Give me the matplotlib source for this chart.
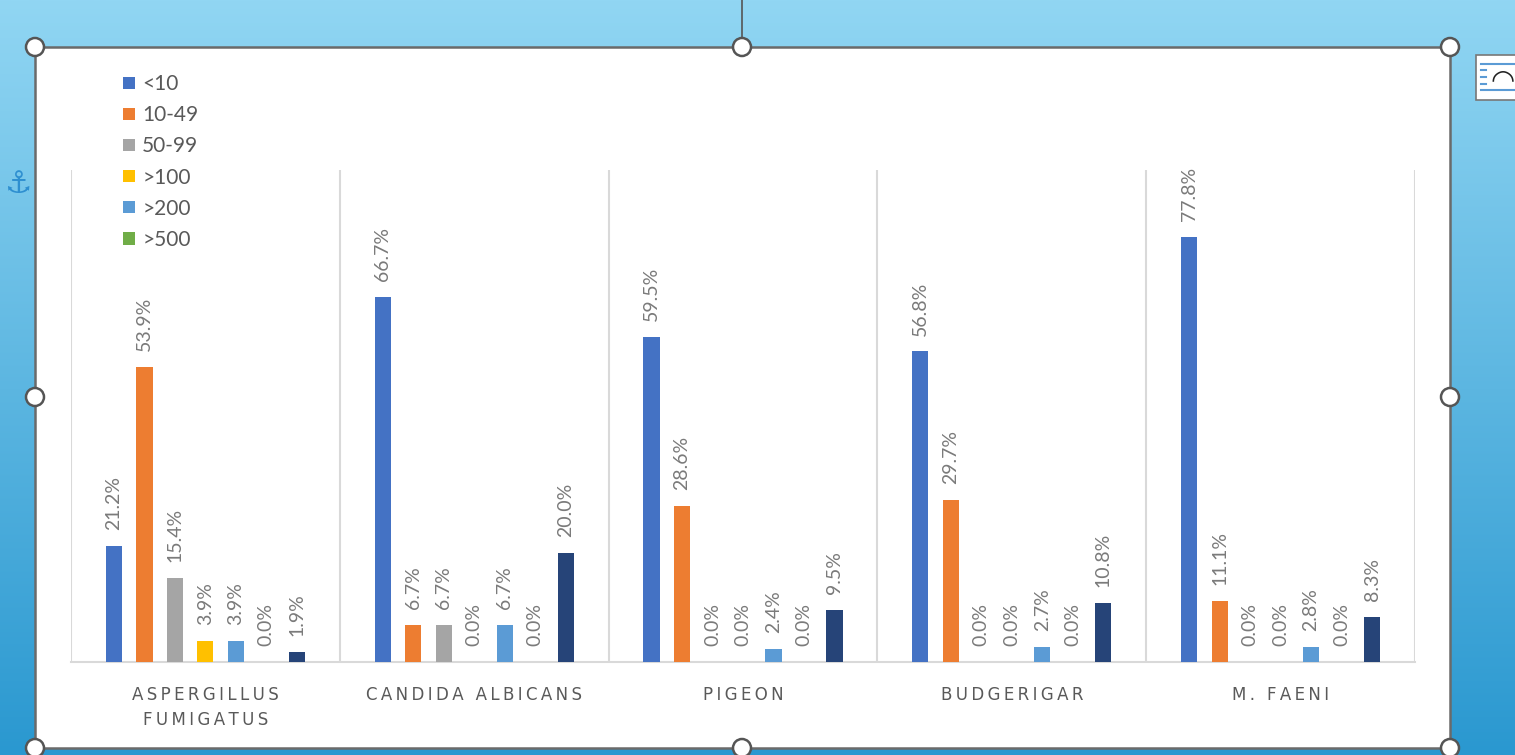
import numpy as np
import matplotlib
matplotlib.use("Agg")
import matplotlib.pyplot as plt
from matplotlib.patches import Rectangle, Circle
from matplotlib.lines import Line2D

plt.rcParams['font.family'] = ['Lato', 'DejaVu Sans']

categories = ["ASPERGILLUS\nFUMIGATUS", "CANDIDA ALBICANS", "PIGEON", "BUDGERIGAR", "M. FAENI"]
series_names = ["<10", "10-49", "50-99", ">100", ">200", ">500", ">1000"]
legend_shown = 6
values = {
    "<10":   [21.2, 66.7, 59.5, 56.8, 77.8],
    "10-49": [53.9, 6.7, 28.6, 29.7, 11.1],
    "50-99": [15.4, 6.7, 0.0, 0.0, 0.0],
    ">100":  [3.9, 0.0, 0.0, 0.0, 0.0],
    ">200":  [3.9, 6.7, 2.4, 2.7, 2.8],
    ">500":  [0.0, 0.0, 0.0, 0.0, 0.0],
    ">1000": [1.9, 20.0, 9.5, 10.8, 8.3],
}
colors = ["#4472C4", "#ED7D31", "#A5A5A5", "#FFC000", "#5B9BD5", "#70AD47", "#264478"]

W, H = 1515, 755
fig = plt.figure(figsize=(W / 100, H / 100), dpi=100)

# background gradient (Word canvas)
bg = fig.add_axes([0, 0, 1, 1], zorder=-10)
grad = np.linspace(0, 1, 256)[:, None]
c_top = np.array([0x91, 0xd6, 0xf3]) / 255
c_bot = np.array([0x2a, 0x98, 0xd0]) / 255
img = c_top[None, None, :] * (1 - grad[:, :, None]) + c_bot[None, None, :] * grad[:, :, None]
bg.imshow(img, aspect='auto', extent=[0, W, H, 0])
bg.set_xlim(0, W)
bg.set_ylim(H, 0)
bg.axis('off')

# white chart frame
bg.add_patch(Rectangle((35, 47), 1415, 701, facecolor='white', edgecolor='#6a6a6a', lw=1.8, zorder=1))
bg.add_line(Line2D([742, 742], [0, 47], color='#555555', lw=1.2, zorder=2))
for (hx, hy) in [(35, 47), (742, 47), (1450, 47), (35, 397), (1450, 397), (35, 748), (742, 748), (1450, 748)]:
    bg.add_patch(Circle((hx, hy), 9, facecolor='white', edgecolor='#555555', lw=1.8, zorder=3))
bg.text(18, 184, "\u2693", color='#2e8fd0', fontsize=22, ha='center', va='center',
        family=['DejaVu Sans'], zorder=3)
# layout options icon
bg.add_patch(Rectangle((1476, 55), 45, 45, facecolor='white', edgecolor='#777777', lw=1.2, zorder=3))
for yy in [64, 90]:
    bg.add_line(Line2D([1481, 1515], [yy, yy], color='#5b9bd5', lw=1.5, zorder=4))
for yy in [70, 77, 84]:
    bg.add_line(Line2D([1481, 1486], [yy, yy], color='#5b9bd5', lw=1.5, zorder=4))
bg.text(1503, 80, "\u25e0", fontsize=20, color='#222222', ha='center', va='center',
        family=['DejaVu Sans'], zorder=4)

# chart axes
ax = fig.add_axes([71 / W, 1 - 662 / H, (1415 - 71) / W, (662 - 170) / H])
ax.set_facecolor('none')
n = len(series_names)
slot = 0.1134
bw = 0.06
x = np.arange(len(categories))
for i, name in enumerate(series_names):
    offs = (i - (n - 1) / 2) * slot
    vals = values[name]
    ax.bar(x + offs, vals, width=bw, color=colors[i], zorder=3,
           label=name if i < legend_shown else "_nolegend_")
    for xi, v in zip(x + offs, vals):
        ax.annotate(f"{v:.1f}%", (xi, v), xytext=(0, 11.5), textcoords='offset points',
                    rotation=90, ha='center', va='bottom', fontsize=14, color='#7a7a7a')

ax.set_xlim(-0.5, len(categories) - 0.5)
ax.set_ylim(0, 90)
ax.set_yticks([])
ax.set_xticks([])
for s in ['top', 'right', 'left']:
    ax.spines[s].set_visible(False)
ax.spines['bottom'].set_color('#d9d9d9')
ax.spines['bottom'].set_linewidth(1.5)
for b in np.arange(-0.5, len(categories), 1.0):
    ax.axvline(b, color='#d9d9d9', lw=1.5, zorder=1)

# category labels with letter spacing
for xi, cat in zip(x, categories):
    spaced = "\n".join("\u2009".join(list(line)) for line in cat.split("\n"))
    ax.text(xi, -4.3, spaced, ha='center', va='top', fontsize=12, color='#595959',
            linespacing=1.55, family=['DejaVu Sans'])

handles, labels = ax.get_legend_handles_labels()
leg = fig.legend(handles, labels, loc='upper left', bbox_to_anchor=(113 / W, 1 - 64 / H),
                 frameon=False, fontsize=15, labelcolor='#595959', handlelength=0.55,
                 handleheight=0.55, handletextpad=0.35, labelspacing=0.53, borderpad=0)

fig.savefig("out.png", dpi=100)
